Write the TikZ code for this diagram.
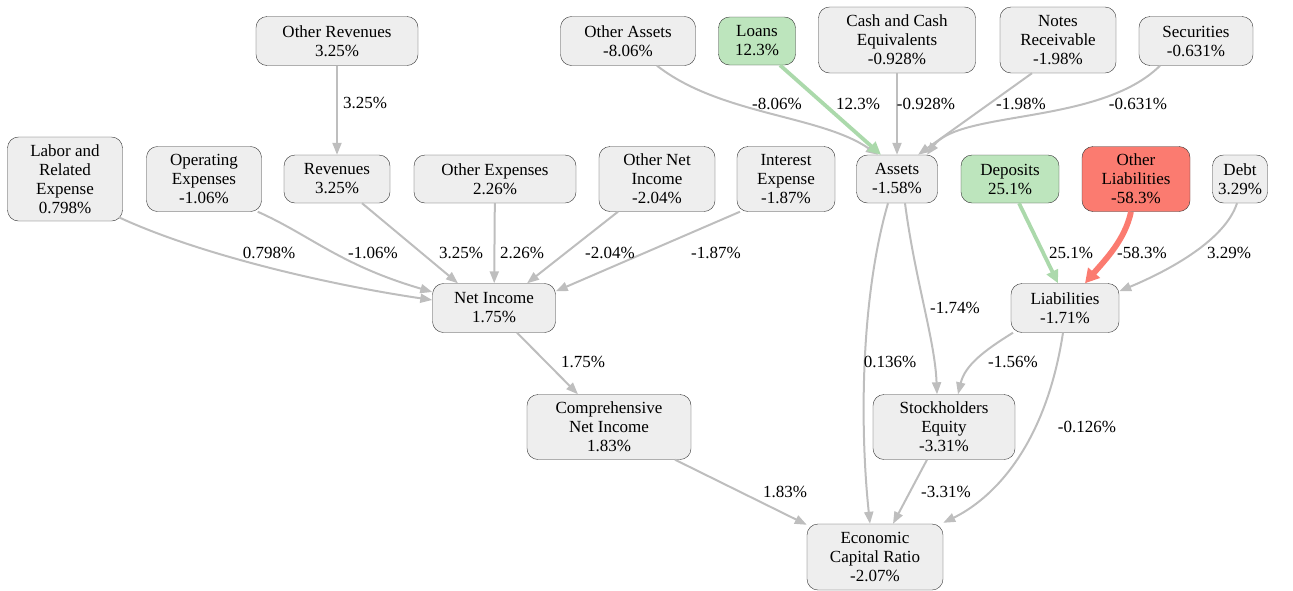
\documentclass[tikz,border=0pt]{standalone}
\usepackage{fontspec}
\setmainfont{Liberation Serif}
\usetikzlibrary{arrows.meta}
\usetikzlibrary{calc}
\definecolor{boxfill}{HTML}{EEEEEE}
\definecolor{boxline}{HTML}{333333}
\definecolor{edgegray}{HTML}{BEBEBE}
\definecolor{upgreen}{HTML}{BDE5BD}
\definecolor{upgreenedge}{HTML}{ABD9AB}
\definecolor{downred}{HTML}{FB7B70}

\begin{document}
\begin{tikzpicture}[x=1pt, y=-1pt,
  box/.style={draw=boxline, fill=boxfill, rounded corners=11pt, align=center, inner sep=0pt, font=\rmfamily\fontsize{17}{19}\selectfont},
  lbl/.style={inner sep=1pt, font=\rmfamily\fontsize{17}{19}\selectfont},
  edge/.style={edgegray, line width=2pt, -{Triangle[length=12pt,width=9pt]}},
  gedge/.style={upgreenedge, line width=3.8pt, -{Triangle[length=13pt,width=12pt]}},
  redge/.style={downred, line width=5.8pt, -{Triangle[length=14pt,width=15pt]}}]
\useasboundingbox (0,0) rectangle (1293,590);

% top row
\node[box, minimum width=162pt, minimum height=49pt] (orev) at (337,41) {Other Revenues\\3.25\%};
\node[box, minimum width=135pt, minimum height=49pt] (oass) at (628,41) {Other Assets\\-8.06\%};
\node[box, minimum width=77pt, minimum height=48pt, fill=upgreen] (loans) at (757,41) {Loans\\12.3\%};
\node[box, minimum width=157pt, minimum height=66pt] (cash) at (897,40) {Cash and Cash\\Equivalents\\-0.928\%};
\node[box, minimum width=116pt, minimum height=66pt] (notes) at (1058,40) {Notes\\Receivable\\-1.98\%};
\node[box, minimum width=114pt, minimum height=49pt] (sec) at (1196,41) {Securities\\-0.631\%};

% second row
\node[box, minimum width=115pt, minimum height=84pt] (labor) at (65,179) {Labor and\\Related\\Expense\\0.798\%};
\node[box, minimum width=115pt, minimum height=65pt] (opex) at (204,179) {Operating\\Expenses\\-1.06\%};
\node[box, minimum width=106pt, minimum height=48pt] (rev) at (337,179) {Revenues\\3.25\%};
\node[box, minimum width=162pt, minimum height=48pt] (oexp) at (495,179) {Other Expenses\\2.26\%};
\node[box, minimum width=116pt, minimum height=65pt] (oni) at (657,179) {Other Net\\Income\\-2.04\%};
\node[box, minimum width=98pt, minimum height=65pt] (iexp) at (786,179) {Interest\\Expense\\-1.87\%};
\node[box, minimum width=81pt, minimum height=48pt] (assets) at (897,179) {Assets\\-1.58\%};
\node[box, minimum width=98pt, minimum height=48pt, fill=upgreen] (dep) at (1010,179) {Deposits\\25.1\%};
\node[box, minimum width=108pt, minimum height=65pt, fill=downred] (oliab) at (1136,179) {Other\\Liabilities\\-58.3\%};
\node[box, minimum width=55pt, minimum height=48pt] (debt) at (1240,179) {Debt\\3.29\%};

% lower rows
\node[box, minimum width=123pt, minimum height=49pt] (ni) at (494,308) {Net Income\\1.75\%};
\node[box, minimum width=108pt, minimum height=49pt] (liab) at (1065,308) {Liabilities\\-1.71\%};
\node[box, minimum width=164pt, minimum height=65pt] (cni) at (609,427) {Comprehensive\\Net Income\\1.83\%};
\node[box, minimum width=142pt, minimum height=65pt] (se) at (944,427) {Stockholders\\Equity\\-3.31\%};
\node[box, minimum width=136pt, minimum height=66pt] (ecr) at (875,557) {Economic\\Capital Ratio\\-2.07\%};

% edges into net income
\draw[edge] (orev) -- (rev);
\draw[edge] ([xshift=-4pt,yshift=4pt]labor.south east) .. controls (200,255) and (330,285) .. ([yshift=8pt]ni.west);
\draw[edge] ([xshift=-4pt]opex.south east) .. controls (310,235) and (340,265) .. ([yshift=16pt]ni.west);
\draw[edge] ([xshift=25pt]rev.south) -- ([xshift=-36pt]ni.north);
\draw[edge] (oexp) -- (ni);
\draw[edge] ([xshift=-39pt]oni.south) -- ([xshift=33pt]ni.north);
\draw[edge] ([xshift=-46pt]iexp.south) -- ([yshift=-8pt]ni.north east);
\draw[edge] ([xshift=23pt]ni.south) -- ([xshift=-31pt]cni.north);
\draw[edge] ([xshift=66pt]cni.south) -- ([yshift=-1pt]ecr.north west);

% edges into assets
\draw[edge] ([xshift=29pt]oass.south) .. controls (720,115) and (820,115) .. ([xshift=-19pt]assets.north);
\draw[gedge] ([xshift=23pt]loans.south) -- ([xshift=-16pt]assets.north);
\draw[edge] (cash) -- (assets);
\draw[edge] ([xshift=-26pt]notes.south) -- ([xshift=21pt]assets.north);
\draw[edge] ([xshift=-36pt]sec.south) .. controls (1100,125) and (960,110) .. ([xshift=30pt]assets.north);

% edges into liabilities
\draw[gedge] ([xshift=9pt]dep.south) -- ([xshift=-7pt]liab.north);
\draw[redge] ([xshift=-5pt]oliab.south) .. controls (1125,240) and (1105,260) .. ([xshift=20pt]liab.north);
\draw[edge] ([xshift=-3pt]debt.south) .. controls (1225,240) and (1170,270) .. ([yshift=-8pt]liab.north east);

% edges into equity and ratio
\draw[edge] ([xshift=-9pt]assets.south) .. controls (860,300) and (860,430) .. ([xshift=-5pt]ecr.north);
\draw[edge] ([xshift=8pt]assets.south) .. controls (915,280) and (935,340) .. ([xshift=-7pt]se.north);
\draw[edge] ([xshift=-52pt]liab.south) .. controls (985,350) and (965,365) .. ([xshift=14pt]se.north);
\draw[edge] ([xshift=-2pt]liab.south) .. controls (1045,450) and (990,500) .. ([yshift=1pt]ecr.north east);
\draw[edge] ([xshift=-17pt]se.south) -- ([xshift=18pt]ecr.north);

% edge labels
\node[lbl] (l-orev) at (365,103) {3.25\%};
\node[lbl] (l-labor) at (269,253) {0.798\%};
\node[lbl] (l-opex) at (373,253) {-1.06\%};
\node[lbl] (l-rev) at (461,253) {3.25\%};
\node[lbl] (l-oexp) at (522,253) {2.26\%};
\node[lbl] (l-oni) at (610,253) {-2.04\%};
\node[lbl] (l-iexp) at (716,253) {-1.87\%};
\node[lbl] (l-oass) at (777,104) {-8.06\%};
\node[lbl] (l-loans) at (858,104) {12.3\%};
\node[lbl] (l-cash) at (926,104) {-0.928\%};
\node[lbl] (l-notes) at (1021,104) {-1.98\%};
\node[lbl] (l-sec) at (1138,104) {-0.631\%};
\node[lbl] (l-dep) at (1071,253) {25.1\%};
\node[lbl] (l-oliab) at (1142,253) {-58.3\%};
\node[lbl] (l-debt) at (1229,253) {3.29\%};
\node[lbl] (l-ni) at (583,362) {1.75\%};
\node[lbl] (l-ase) at (955,308) {-1.74\%};
\node[lbl] (l-aecr) at (890,362) {0.136\%};
\node[lbl] (l-lse) at (1013,362) {-1.56\%};
\node[lbl] (l-lecr) at (1087,427) {-0.126\%};
\node[lbl] (l-cni) at (785,492) {1.83\%};
\node[lbl] (l-se) at (946,492) {-3.31\%};
\end{tikzpicture}
\end{document}
